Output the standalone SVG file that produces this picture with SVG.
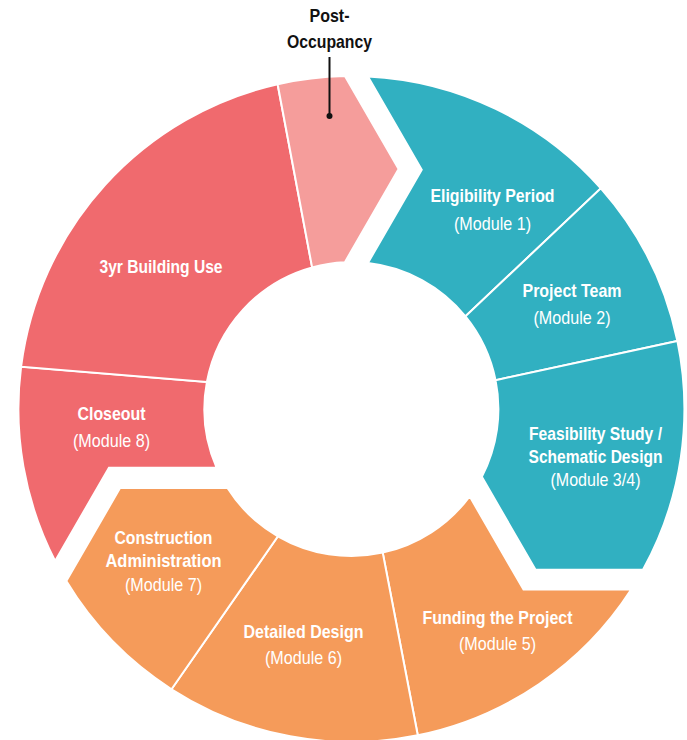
<svg xmlns="http://www.w3.org/2000/svg" width="687" height="740" viewBox="0 0 687 740">
  <style>
    .seg { stroke: #ffffff; stroke-width: 2; stroke-linejoin: miter; }
    .teal { fill: #31B0C1; }
    .orange { fill: #F59B5A; }
    .red { fill: #F06A6E; }
    .pink { fill: #F59D9B; }
    text { font-family: "Liberation Sans", Arial, sans-serif; font-size: 19px; text-anchor: middle; }
    .title { fill: #ffffff; font-weight: bold; }
    .sub { fill: #ffffff; }
    .callout { fill: #111111; font-weight: bold; }
    .leader { stroke: #111111; stroke-width: 2; fill: none; }
  </style>
  <rect width="687" height="740" fill="#ffffff"/>

  <!-- Teal group: modules 1 to 3/4 -->
  <g id="eligibility-period">
    <path class="seg teal" d="M 367.9,76.41 A 333 333 0 0 1 600.82,188.35 L 465.47,316.29 A 147 147 0 0 0 367.9,262.93 L 421.74,169.67 Z"/>
    <text class="title" x="492.5" y="201.5" textLength="124" lengthAdjust="spacingAndGlyphs">Eligibility Period</text>
    <text class="sub" x="492.5" y="230" textLength="77" lengthAdjust="spacingAndGlyphs">(Module 1)</text>
  </g>
  <g id="project-team">
    <path class="seg teal" d="M 600.82,188.35 A 333 333 0 0 1 677.36,340.9 L 495.55,380.2 A 147 147 0 0 0 465.47,316.29 Z"/>
    <text class="title" x="572" y="297" textLength="99" lengthAdjust="spacingAndGlyphs">Project Team</text>
    <text class="sub" x="572" y="324" textLength="77" lengthAdjust="spacingAndGlyphs">(Module 2)</text>
  </g>
  <g id="feasibility-study">
    <path class="seg teal" d="M 677.36,340.9 A 333 333 0 0 1 642.98,569.84 L 535.55,569.84 L 481.83,476.8 A 147 147 0 0 0 495.55,380.2 Z"/>
    <text class="title" x="595.5" y="440" textLength="133" lengthAdjust="spacingAndGlyphs">Feasibility Study /</text>
    <text class="title" x="595.5" y="463" textLength="134" lengthAdjust="spacingAndGlyphs">Schematic Design</text>
    <text class="sub" x="595.5" y="486" textLength="90" lengthAdjust="spacingAndGlyphs">(Module 3/4)</text>
  </g>

  <!-- Orange group: modules 5 to 7 -->
  <g id="funding-the-project">
    <path class="seg orange" d="M 631.18,589.59 A 333 333 0 0 1 417.79,735.31 L 382.72,552.63 A 147 147 0 0 0 469.65,496.33 L 523.5,589.59 Z"/>
    <text class="title" x="497.5" y="624" textLength="150" lengthAdjust="spacingAndGlyphs">Funding the Project</text>
    <text class="sub" x="497.5" y="650" textLength="77" lengthAdjust="spacingAndGlyphs">(Module 5)</text>
  </g>
  <g id="detailed-design">
    <path class="seg orange" d="M 417.79,735.31 A 333 333 0 0 1 171.5,689.22 L 277.9,536.3 A 147 147 0 0 0 382.72,552.63 Z"/>
    <text class="title" x="303.5" y="638" textLength="120" lengthAdjust="spacingAndGlyphs">Detailed Design</text>
    <text class="sub" x="303.5" y="664" textLength="77" lengthAdjust="spacingAndGlyphs">(Module 6)</text>
  </g>
  <g id="construction-administration">
    <path class="seg orange" d="M 171.5,689.22 A 333 333 0 0 1 66.32,581.1 L 120.03,488.06 L 227.47,488.06 A 147 147 0 0 0 277.9,536.3 Z"/>
    <text class="title" x="163.5" y="543.5" textLength="98" lengthAdjust="spacingAndGlyphs">Construction</text>
    <text class="title" x="163.5" y="567" textLength="116" lengthAdjust="spacingAndGlyphs">Administration</text>
    <text class="sub" x="163.5" y="591" textLength="77" lengthAdjust="spacingAndGlyphs">(Module 7)</text>
  </g>

  <!-- Red group: module 8, building use, post-occupancy -->
  <g id="closeout">
    <path class="seg red" d="M 55.12,561.01 A 333 333 0 0 1 21.1,366.69 L 206.91,381.96 A 147 147 0 0 0 216.65,467.75 L 108.96,467.75 Z"/>
    <text class="title" x="111.5" y="420" textLength="68" lengthAdjust="spacingAndGlyphs">Closeout</text>
    <text class="sub" x="111.5" y="447" textLength="77" lengthAdjust="spacingAndGlyphs">(Module 8)</text>
  </g>
  <g id="building-use">
    <path class="seg red" d="M 21.1,366.69 A 333 333 0 0 1 277.62,84.27 L 312.12,267.35 A 147 147 0 0 0 206.91,381.96 Z"/>
    <text class="title" x="161" y="273" textLength="123" lengthAdjust="spacingAndGlyphs">3yr Building Use</text>
  </g>
  <g id="post-occupancy">
    <path class="seg pink" d="M 277.62,84.27 A 333 333 0 0 1 344.9,76.06 L 398.62,169.1 L 344.9,262.14 A 147 147 0 0 0 312.12,267.35 Z"/>
    <text class="callout" x="329.5" y="21.5" textLength="40" lengthAdjust="spacingAndGlyphs">Post-</text>
    <text class="callout" x="329.5" y="48" textLength="85" lengthAdjust="spacingAndGlyphs">Occupancy</text>
  </g>

  <!-- Callout leader for the post-occupancy label -->
  <g id="connectors">
    <line class="leader" x1="329.5" y1="57" x2="329.5" y2="116"/>
    <circle cx="329.5" cy="116" r="3" fill="#111111"/>
  </g>
</svg>
